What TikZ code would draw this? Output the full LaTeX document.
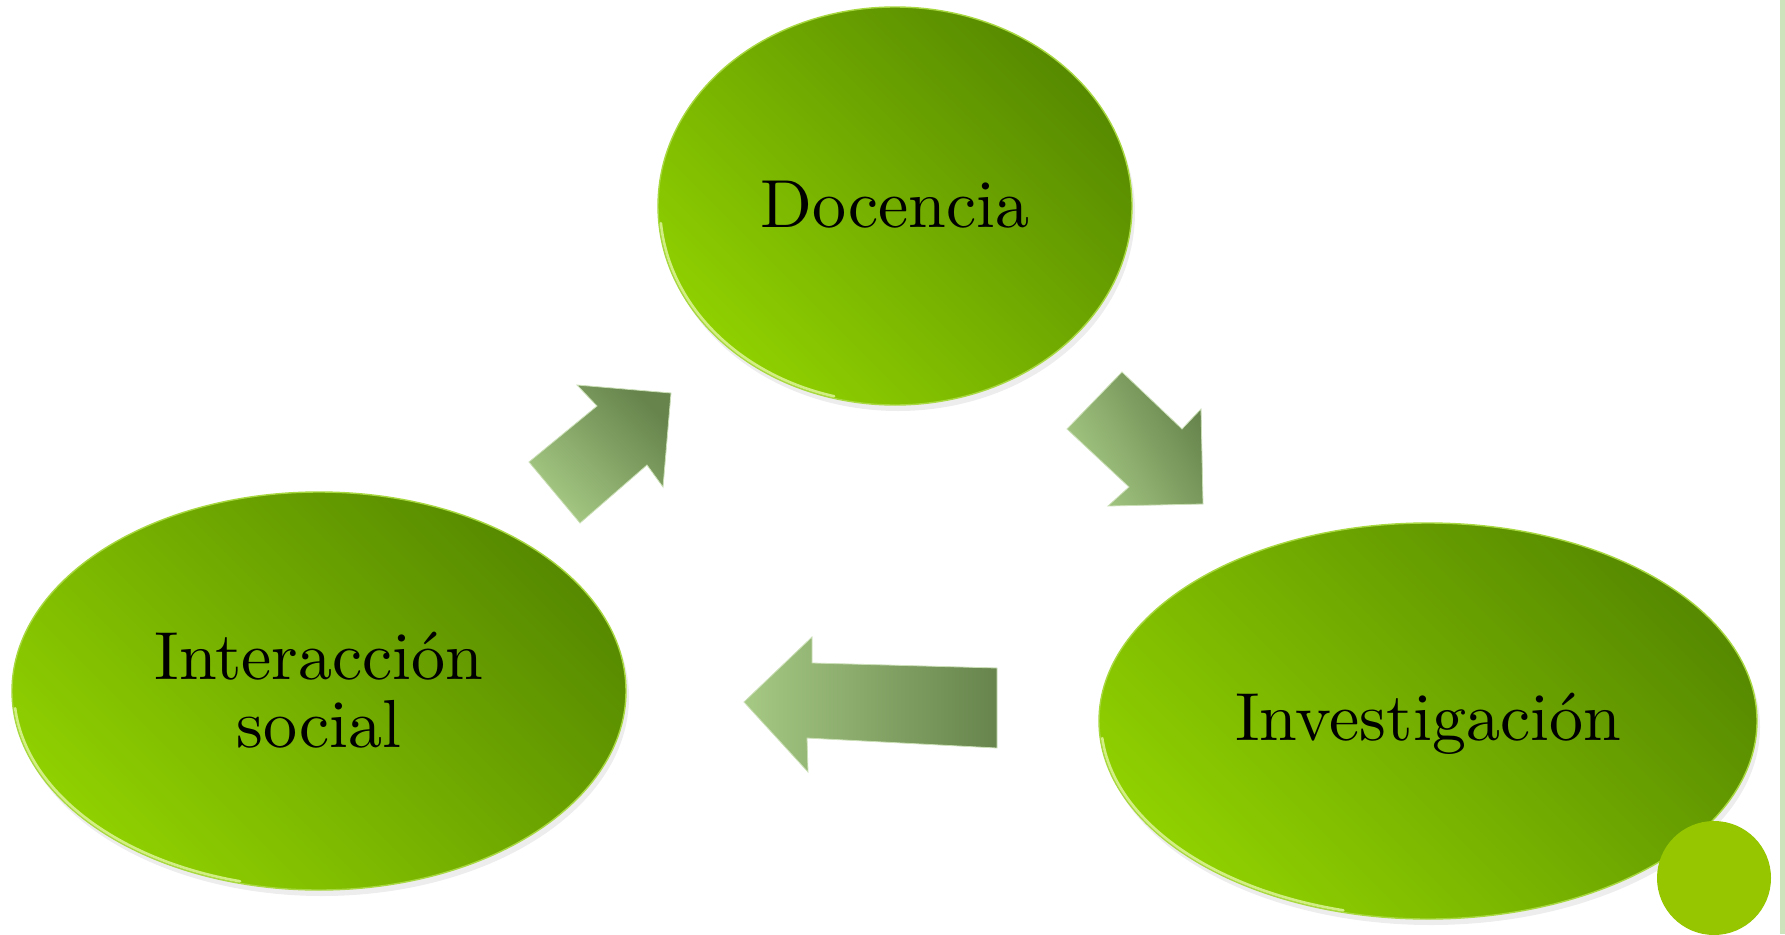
\documentclass[tikz,border=0pt]{standalone}
\usetikzlibrary{shapes.geometric}
\definecolor{limebright}{HTML}{8FD000}
\definecolor{limedark}{HTML}{578A00}
\definecolor{limerim}{HTML}{A8D840}
\definecolor{limeshine}{HTML}{DDF59A}
\definecolor{arrlight}{HTML}{A6C984}
\definecolor{arrdark}{HTML}{66844C}
\definecolor{dotgreen}{HTML}{95C600}
\definecolor{stripgreen}{HTML}{CCE3BC}
\tikzset{
  bubble/.style={ellipse, inner sep=0pt, draw=limerim, line width=1.4pt,
    top color=limedark, bottom color=limebright, shading angle=-45,
    align=center, text=black},
  shine/.style={draw=limeshine, line width=2.6pt, line cap=round, opacity=0.85},
  arrowshape/.style={draw=arrlight!60!white, line width=0.8pt,
    top color=arrdark, bottom color=arrlight},
  shadowfill/.style={fill=black, opacity=0.07}
}
\newcommand{\bigtxt}[2]{\scalebox{6.8}{\raisebox{#1}[\height][\depth]{\renewcommand{\arraystretch}{0.82}\begin{tabular}{@{}c@{}}#2\end{tabular}}}}
\begin{document}
\begin{tikzpicture}[x=1pt,y=-1pt]
\useasboundingbox (0,0) rectangle (1785,934);
\fill[white] (0,0) rectangle (1785,934);
% right strip
\fill[stripgreen] (1780,0) rectangle (1785,934);
% soft shadows
\fill[shadowfill] (898,212) ellipse [x radius=237, y radius=199];
\fill[shadowfill] (322,697) ellipse [x radius=307, y radius=199];
\fill[shadowfill] (1431,727) ellipse [x radius=329, y radius=198];
% bubbles
\node[bubble, minimum width=474pt, minimum height=398pt] (doc) at (895,206) {\bigtxt{-1.2pt}{Docencia}};
\node[bubble, minimum width=614pt, minimum height=398pt] (soc) at (319,691) {\bigtxt{-1.3pt}{Interacción\\social}};
\node[bubble, minimum width=658pt, minimum height=396pt] (inv) at (1428,721) {\bigtxt{-0.9pt}{Investigación}};
% rim highlights (lower-left)
\draw[shine] (doc.center) ++(105:235 and 197) arc[start angle=105, end angle=175, x radius=235, y radius=197];
\draw[shine] (soc.center) ++(105:305 and 197) arc[start angle=105, end angle=175, x radius=305, y radius=197];
\draw[shine] (inv.center) ++(105:327 and 196) arc[start angle=105, end angle=175, x radius=327, y radius=196];
% arrows
\shade[arrowshape, shading angle=-45]
  (529,462) -- (580,523) -- (647,465) -- (663,487) -- (671,393) -- (577,385) -- (597,406) -- cycle;
\shade[arrowshape, shading angle=-60]
  (1122,372) -- (1067,429) -- (1129,487) -- (1108,506) -- (1203,504) -- (1201,409) -- (1182,429) -- cycle;
\shade[arrowshape, shading angle=-90]
  (744,702) -- (812,637) -- (812,663) -- (997,668) -- (997,748) -- (807,738) -- (808,772) -- cycle;
% corner dot
\fill[dotgreen] (1714,878) circle (57);
\end{tikzpicture}
\end{document}
